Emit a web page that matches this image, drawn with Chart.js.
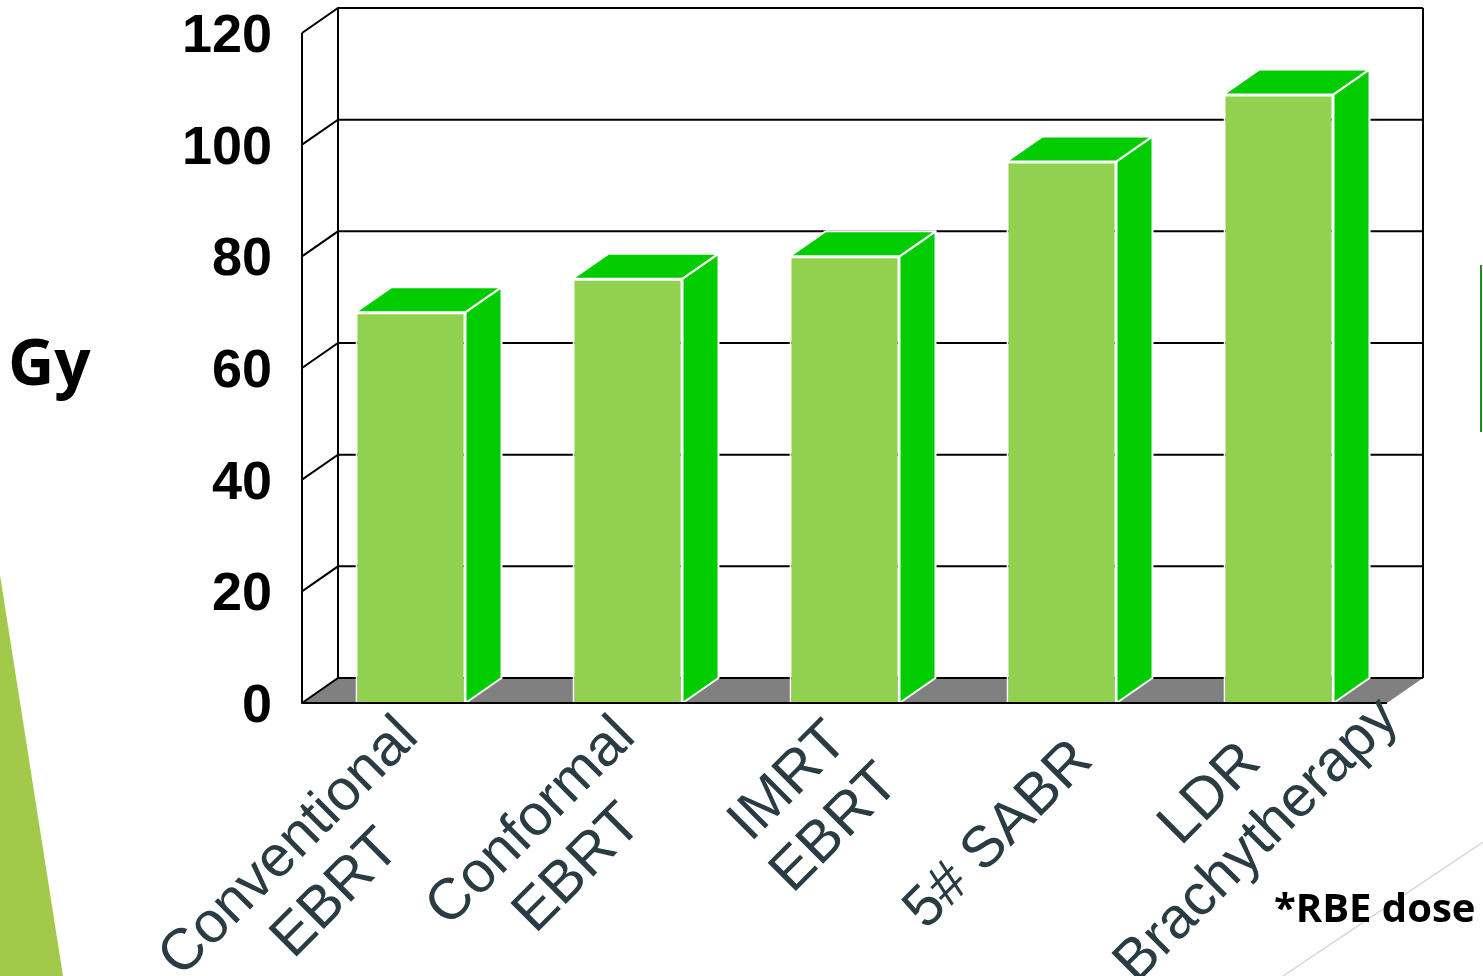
<!DOCTYPE html>
<html>
<head>
<meta charset="utf-8">
<script src="https://cdn.jsdelivr.net/npm/chart.js@4.4.1/dist/chart.umd.min.js"></script>
<style>
  html, body { margin: 0; padding: 0; background: #fff; }
  canvas { display: block; }
</style>
</head>
<body>
<canvas id="dose_chart" width="1483" height="976"></canvas>
<script>
// données
const categories = [['Conventional', 'EBRT'], ['Conformal', 'EBRT'], ['IMRT', 'EBRT'], ['5# SABR'], ['LDR', 'Brachytherapy']];
const doseGy = [70, 76, 80, 97, 109];
const yTicks = [0, 20, 40, 60, 80, 100, 120];

// décalage de profondeur du faux 3D
const DX = 36, DY = -25;

const decor = {
    id: 'decor',
    beforeDraw(chart) {
        const ctx = chart.ctx;
        ctx.save();
        // triangle vert du gabarit de diapo
        ctx.fillStyle = '#A2C94A';
        ctx.beginPath();
        ctx.moveTo(0, 575); ctx.lineTo(63, 976); ctx.lineTo(0, 976);
        ctx.closePath(); ctx.fill();
        // ligne grise en bas à droite
        ctx.strokeStyle = '#d6d6d6';
        ctx.lineWidth = 1.5;
        ctx.beginPath(); ctx.moveTo(1483, 842); ctx.lineTo(1283, 976); ctx.stroke();
        // bord de la légende coupée
        ctx.strokeStyle = '#1E8C1E';
        ctx.lineWidth = 2;
        ctx.beginPath(); ctx.moveTo(1481, 265); ctx.lineTo(1481, 432); ctx.stroke();
        ctx.restore();
    },
    beforeDatasetsDraw(chart) {
        const { ctx, chartArea: a, scales: { y } } = chart;
        const y0 = y.getPixelForValue(0);
        const yTop = y.getPixelForValue(y.max);
        ctx.save();
        // sol gris
        ctx.fillStyle = '#808080';
        ctx.beginPath();
        ctx.moveTo(a.left, y0); ctx.lineTo(a.right, y0);
        ctx.lineTo(a.right + DX, y0 + DY); ctx.lineTo(a.left + DX, y0 + DY);
        ctx.closePath(); ctx.fill();
        // grille du mur du fond + mur gauche
        ctx.strokeStyle = '#000';
        ctx.lineWidth = 2;
        y.ticks.forEach(t => {
            const py = y.getPixelForValue(t.value);
            ctx.beginPath();
            ctx.moveTo(a.left, py);
            ctx.lineTo(a.left + DX, py + DY);
            ctx.lineTo(a.right + DX, py + DY);
            ctx.stroke();
        });
        ctx.beginPath();
        ctx.moveTo(a.left + DX, yTop + DY); ctx.lineTo(a.left + DX, y0 + DY);
        ctx.moveTo(a.right + DX, yTop + DY); ctx.lineTo(a.right + DX, y0 + DY);
        ctx.stroke();
        ctx.restore();
    },
    afterDatasetsDraw(chart) {
        const { ctx, chartArea: a, scales: { y } } = chart;
        const meta = chart.getDatasetMeta(0);
        ctx.save();
        ctx.fillStyle = '#00CC00';
        ctx.strokeStyle = '#fff';
        ctx.lineWidth = 2;
        ctx.lineJoin = 'round';
        meta.data.forEach(bar => {
            const { x, y: top, base, width } = bar.getProps(['x', 'y', 'base', 'width'], true);
            const x1 = x - width / 2, x2 = x + width / 2;
            // face de côté
            ctx.beginPath();
            ctx.moveTo(x2, top); ctx.lineTo(x2 + DX, top + DY);
            ctx.lineTo(x2 + DX, base + DY); ctx.lineTo(x2, base);
            ctx.closePath(); ctx.fill(); ctx.stroke();
            // face du dessus
            ctx.beginPath();
            ctx.moveTo(x1, top); ctx.lineTo(x1 + DX, top + DY);
            ctx.lineTo(x2 + DX, top + DY); ctx.lineTo(x2, top);
            ctx.closePath(); ctx.fill(); ctx.stroke();
        });
        // axes avant
        const y0 = y.getPixelForValue(0);
        ctx.strokeStyle = '#000';
        ctx.lineWidth = 2;
        ctx.beginPath();
        ctx.moveTo(a.left, y.getPixelForValue(y.max)); ctx.lineTo(a.left, y0);
        ctx.lineTo(a.right, y0);
        ctx.stroke();
        ctx.restore();
    },
    afterDraw(chart) {
        const { ctx, scales: { x, y } } = chart;
        const y0 = y.getPixelForValue(0);
        const c = Math.SQRT1_2;
        ctx.save();
        // étiquettes des catégories, tournées à 45°
        ctx.font = "58px 'Liberation Sans', Arial, sans-serif";
        ctx.fillStyle = '#293B43';
        ctx.textAlign = 'center';
        ctx.textBaseline = 'middle';
        const lh = 66;
        categories.forEach((lines, i) => {
            const px = x.getPixelForValue(i);
            const maxW = Math.max(...lines.map(l => ctx.measureText(l).width));
            const ax = px + 22, ay = y0 + 48;
            // point le plus bas de l'étiquette : on la remonte le long du texte si elle sort du canvas
            let lowest = 0;
            lines.forEach((l, j) => {
                const m = ctx.measureText(l);
                const lx = -(maxW + m.width) / 2;
                const ly = (j - (lines.length - 1) / 2) * lh + m.actualBoundingBoxDescent;
                lowest = Math.max(lowest, ay - c * lx + c * ly);
            });
            const shift = Math.max(0, (lowest - (chart.height + 17)) / c);
            ctx.save();
            ctx.translate(ax, ay);
            ctx.rotate(-Math.PI / 4);
            lines.forEach((l, j) => {
                ctx.fillText(l, -maxW / 2 + shift, (j - (lines.length - 1) / 2) * lh);
            });
            ctx.restore();
        });
        // titre de l'axe et note
        ctx.fillStyle = '#000';
        ctx.textAlign = 'left';
        ctx.textBaseline = 'alphabetic';
        ctx.font = "bold 64px 'Open Sans', sans-serif";
        ctx.fillText('Gy', 8, 385);
        ctx.font = "bold 40px 'Open Sans', sans-serif";
        ctx.fillText('*RBE dose', 1274, 922);
        ctx.restore();
    }
};

new Chart(document.getElementById('dose_chart'), {
    type: 'bar',
    data: {
        labels: categories,
        datasets: [{
            label: 'Dose',
            data: doseGy,
            backgroundColor: '#92D050',
            borderColor: '#ffffff',
            borderWidth: 2,
            borderSkipped: 'bottom',
            barPercentage: 0.507,
            categoryPercentage: 1
        }]
    },
    options: {
        responsive: false,
        animation: false,
        devicePixelRatio: 1,
        layout: { padding: { top: 33, right: 96, left: 0, bottom: 0 } },
        plugins: {
            legend: { display: false },
            tooltip: { enabled: false }
        },
        scales: {
            x: {
                grid: { display: false },
                border: { display: false },
                ticks: { display: false },
                afterFit(scale) {
                    scale.height = 273;
                    scale.paddingLeft = 0;
                    scale.paddingRight = 0;
                }
            },
            y: {
                min: yTicks[0],
                max: yTicks[yTicks.length - 1],
                ticks: {
                    stepSize: yTicks[1] - yTicks[0],
                    color: '#000',
                    padding: 30,
                    labelOffset: 4,
                    font: { family: "'Liberation Sans', Arial, sans-serif", size: 54, weight: 'bold' }
                },
                grid: { display: false, drawTicks: false },
                border: { display: false },
                afterFit(scale) {
                    scale.width = 302;
                    scale.paddingTop = 0;
                    scale.paddingBottom = 0;
                }
            }
        }
    },
    plugins: [decor]
});
</script>
</body>
</html>
